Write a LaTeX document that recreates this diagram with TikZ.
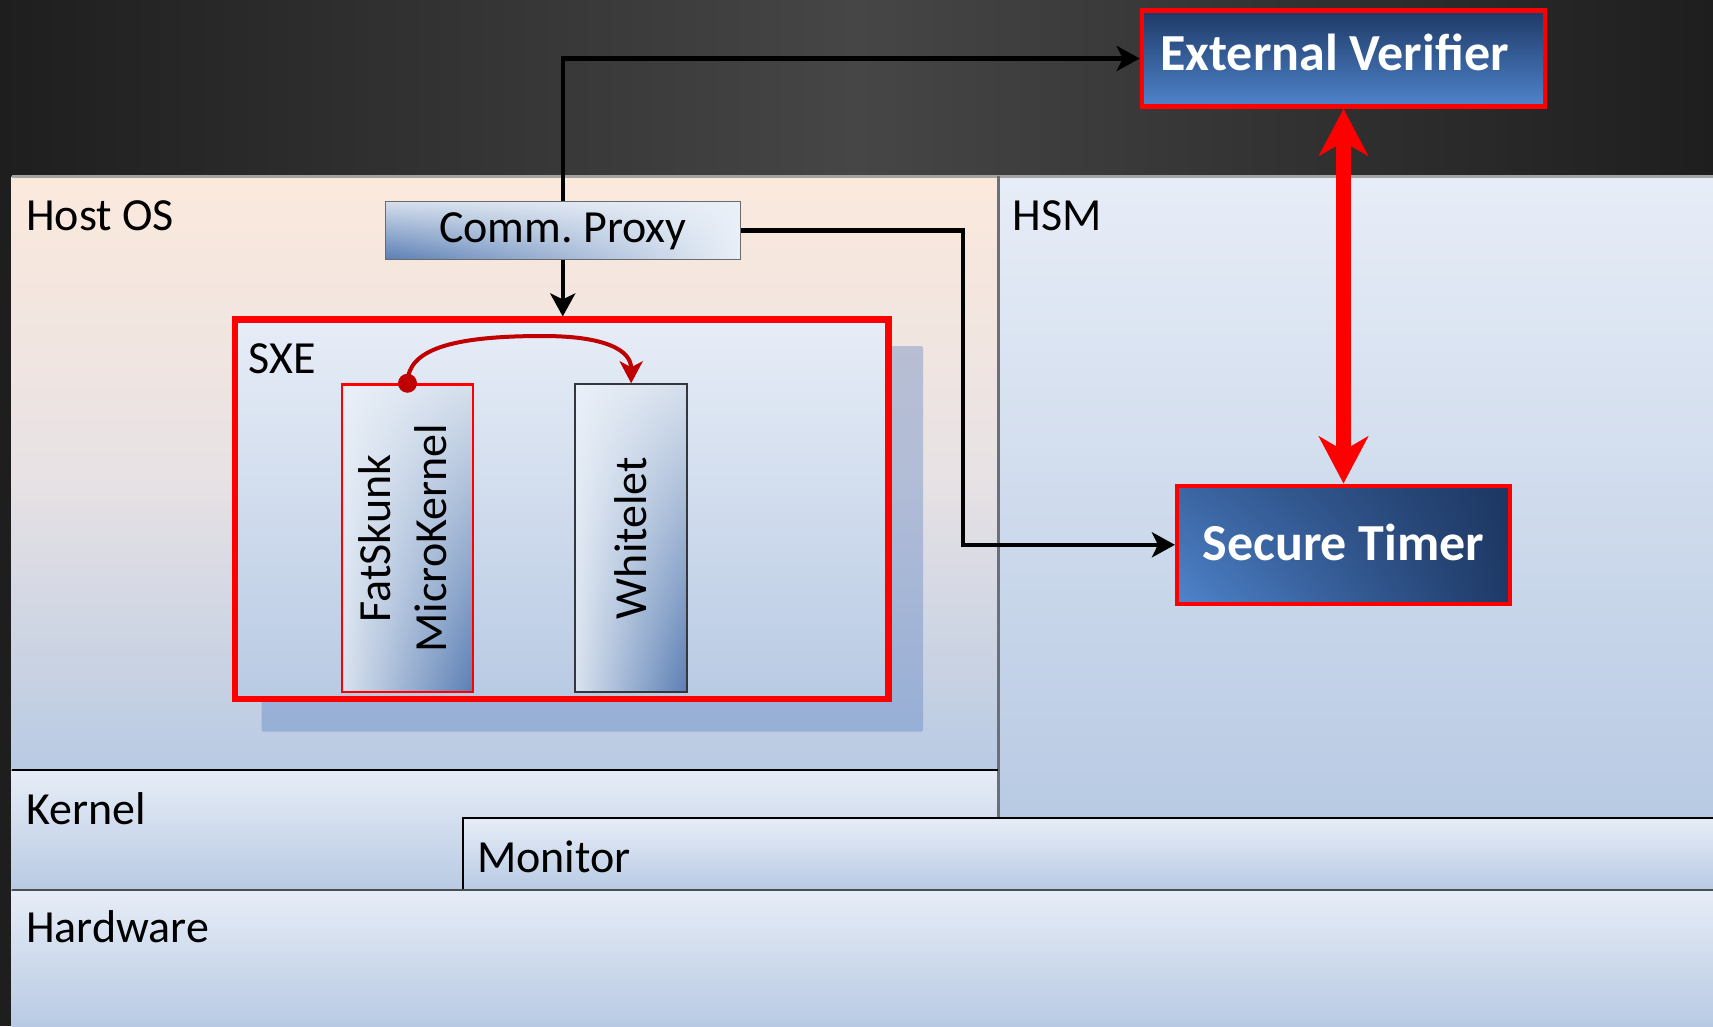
\documentclass[tikz,border=0pt]{standalone}
\usepackage{fontspec}
\usepackage{graphicx}
\setmainfont{Carlito}
\usetikzlibrary{arrows.meta,shadings}
\frenchspacing

\definecolor{bgdark}{HTML}{1E1E1E}
\definecolor{bgmid}{HTML}{464646}
\definecolor{hostTop}{HTML}{FBE9DC}
\definecolor{hostMid}{HTML}{E8E2E4}
\definecolor{paleTop}{HTML}{E7EDF7}
\definecolor{paleBot}{HTML}{B8CAE3}
\definecolor{edgegray}{HTML}{A3A3A3}
\definecolor{divider}{HTML}{6A6F78}
\definecolor{hwline}{HTML}{4A4F57}
\definecolor{shadowc}{RGB}{80,120,190}
\definecolor{evTop}{HTML}{1E3966}
\definecolor{evBot}{HTML}{4F84CC}
\definecolor{darkred}{HTML}{C00000}
\definecolor{boxlight}{HTML}{EAF0F8}
\definecolor{boxmid}{HTML}{D5DFEC}
\definecolor{boxdark}{HTML}{5A7EB4}

\begin{document}
\begin{tikzpicture}[x=1bp,y=-1bp,
  lbl/.style={anchor=base west, inner sep=0pt, font=\fontsize{46bp}{56bp}\selectfont},
  conn/.style={line width=4.3bp, -{Stealth[length=23bp,width=25bp,inset=6bp]}},
  bigred/.style={red, line width=14.5bp,
    {Stealth[length=47bp,width=49bp,inset=14bp]}-{Stealth[length=47bp,width=49bp,inset=14bp]}},
  curvearrow/.style={darkred, line width=4bp, -{Stealth[length=22bp,width=23bp,inset=6bp]}},
  darkbox/.style={draw=red, line width=4.5bp, inner sep=0pt, text=white,
    font=\fontsize{52bp}{60bp}\selectfont\bfseries},
  component/.style={inner sep=0pt, font=\fontsize{46bp}{56bp}\selectfont,
    upper left=boxlight, upper right=boxmid, lower left=boxmid!80!boxlight, lower right=boxdark}
]
\useasboundingbox (0,0) rectangle (1713,1026);

% backdrop
\fill[bgdark] (0,0) rectangle (1713,1026);
\shade[left color=bgdark, right color=bgdark, middle color=bgmid] (0,0) rectangle (1713,176);

% layer panels
\shade[top color=hostTop, bottom color=paleBot, middle color=hostMid] (11.7,176) rectangle (998,770);
\shade[top color=paleTop, bottom color=paleBot] (998,176) rectangle (1713,818);
\shade[top color=paleTop, bottom color=paleBot] (11.7,770) rectangle (998,890);
\shade[top color=paleTop, bottom color=paleBot] (463,818) rectangle (1713,890);
\shade[top color=paleTop, bottom color=paleBot] (11.7,890) rectangle (1713,1026);

\draw[edgegray, line width=3bp] (11.7,176) -- (1713,176);
\draw[divider, line width=3bp] (998,176) -- (998,818);
\draw[black, line width=1.8bp] (11.7,770) -- (998,770);
\draw[black, line width=1.8bp] (463,890) -- (463,818) -- (1713,818);
\draw[hwline, line width=2.5bp] (11.7,890) -- (1713,890);

% panel titles
\node[lbl] (hostos) at (26,230.7) {Host OS};
\node[lbl] (hsm) at (1012.5,230.7) {HSM};
\node[lbl] (kernel) at (26,824) {Kernel};
\node[lbl] (monitor) at (477,872.7) {Monitor};
\node[lbl] (hardware) at (26,942.7) {Hardware};

% SXE container with its drop shadow
\fill[shadowc, opacity=.35, rounded corners=2bp] (261.7,346) rectangle (923,731.7);
\node[draw=red, line width=6.5bp, inner sep=0pt, top color=paleTop, bottom color=paleBot,
  minimum width=653.5bp, minimum height=379.3bp] (sxe) at (561.75,509.35) {};
\node[lbl] (sxelbl) at (248.5,373.3) {SXE};

% components inside the SXE
\node[component, draw=red, line width=2.5bp, minimum width=131bp, minimum height=307.5bp]
  (fat) at (407.5,538.25)
  {\rotatebox{90}{\begin{tabular}{@{}c@{}}FatSkunk\\MicroKernel\end{tabular}}};
\node[component, draw=divider!50!black, line width=2bp, minimum width=112.3bp, minimum height=307.4bp]
  (white) at (631.15,538) {\rotatebox{90}{Whitelet}};

% communication proxy
\node[draw=black!58, line width=1.5bp, inner sep=0pt, font=\fontsize{46bp}{56bp}\selectfont,
  upper left=boxmid, upper right=boxlight, lower left=boxdark, lower right=boxlight!92!boxmid,
  minimum width=355bp, minimum height=58bp, text height=34bp, text depth=9.2bp]
  (proxy) at (562.75,230.35) {Comm. Proxy};

% external parties
\node[darkbox, top color=evTop, bottom color=evBot, minimum width=403bp, minimum height=96bp,
  text height=36bp, text depth=11.6bp] (ev) at (1343.5,58.5) {\hspace*{-18bp}External Verifier};
\node[darkbox, upper left=evBot!60!evTop, upper right=evTop!95!black, lower left=evBot,
  lower right=evTop, minimum width=332.6bp, minimum height=118bp,
  text height=36bp, text depth=4.8bp] (timer) at (1343.5,544.8) {Secure Timer};

% connectors
\draw[conn] (proxy.north) |- (ev.west);
\draw[conn] (proxy.south) -- (proxy.south |- sxe.north);
\draw[conn] (proxy.east) -- ++(222,0) |- (timer.west);
\draw[bigred] (ev.south) -- (timer.north);

\coordinate (peak) at (543,336);
\draw[curvearrow] (fat.north) .. controls (407.5,350) and (450,336) .. (peak)
  .. controls (605,336) and (631.2,350) .. (white.north);
\fill[darkred] (fat.north) circle[radius=9.5bp];
\end{tikzpicture}
\end{document}
